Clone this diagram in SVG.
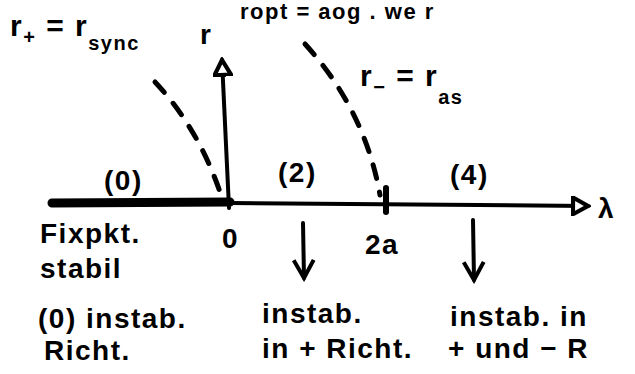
<svg xmlns="http://www.w3.org/2000/svg" width="635" height="374" viewBox="0 0 635 374">
<defs>
<style>
.t{font-family:"Liberation Sans",Arial,sans-serif;font-weight:bold;fill:#000;font-size:28px;letter-spacing:1.5px}
.s{font-size:20px}
.ln{stroke:#000;stroke-width:4;fill:none;stroke-linecap:round}
.dash{stroke:#000;stroke-width:5;fill:none;stroke-dasharray:14 14;stroke-linecap:round}
</style>
<marker id="open" viewBox="0 0 12 12" refX="10" refY="6" markerWidth="5" markerHeight="5" orient="auto"><path d="M1,1 L10,6 L1,11 Z" fill="#fff" stroke="#000" stroke-width="2.5"/></marker>
<marker id="v" viewBox="0 0 12 12" refX="10" refY="6" markerWidth="6" markerHeight="6" orient="auto"><path d="M1,1 L10,6 L1,11" fill="none" stroke="#000" stroke-width="2"/></marker>
</defs>
<rect width="635" height="374" fill="#fff"/>
<g id="connectors">
<line class="ln" x1="52" y1="203" x2="230" y2="202" style="stroke-width:9"/>
<line class="ln" x1="230" y1="203" x2="588" y2="206" marker-end="url(#open)"/>
<line class="ln" x1="229" y1="208" x2="222" y2="60" marker-end="url(#open)"/>
<line class="ln" x1="386" y1="188" x2="386" y2="212" style="stroke-width:6"/>
<path class="dash" d="M155,82 Q200,130 222,198"/>
<path class="dash" d="M305,44 Q365,110 380,195"/>
<line class="ln" x1="303" y1="223" x2="304" y2="278" marker-end="url(#v)"/>
<line class="ln" x1="473" y1="220" x2="474" y2="280" marker-end="url(#v)"/>
</g>
<g id="top"><text class="t" x="240" y="19" style="font-size:22px">ropt = aog .  we      r</text></g>
<g id="rplus"><text class="t" x="10" y="36" style="font-size:30px">r<tspan class="s" dy="8">+</tspan><tspan dy="-8"> = r</tspan><tspan class="s" dy="14">sync</tspan></text></g>
<g id="rlabel"><text class="t" x="200" y="44">r</text></g>
<g id="rminus"><text class="t" x="360" y="86" style="font-size:30px">r<tspan class="s" dy="8">−</tspan><tspan dy="-8"> = r</tspan><tspan class="s" dy="18">as</tspan></text></g>
<g id="lab0"><text class="t" x="104" y="190">(0)</text></g>
<g id="lab2"><text class="t" x="278" y="182">(2)</text></g>
<g id="lab4"><text class="t" x="450" y="184">(4)</text></g>
<g id="lambda"><text class="t" x="598" y="218">λ</text></g>
<g id="zero"><text class="t" x="222" y="248">0</text></g>
<g id="twoa"><text class="t" x="365" y="254">2a</text></g>
<g id="left"><text class="t" x="40" y="243">Fixpkt.</text><text class="t" x="40" y="278">stabil</text><text class="t" x="38" y="328">(0) instab.</text><text class="t" x="44" y="360">Richt.</text></g>
<g id="mid"><text class="t" x="262" y="323">instab.</text><text class="t" x="262" y="358">in + Richt.</text></g>
<g id="right"><text class="t" x="450" y="326">instab. in</text><text class="t" x="448" y="358">+ und − R</text></g>
</svg>
